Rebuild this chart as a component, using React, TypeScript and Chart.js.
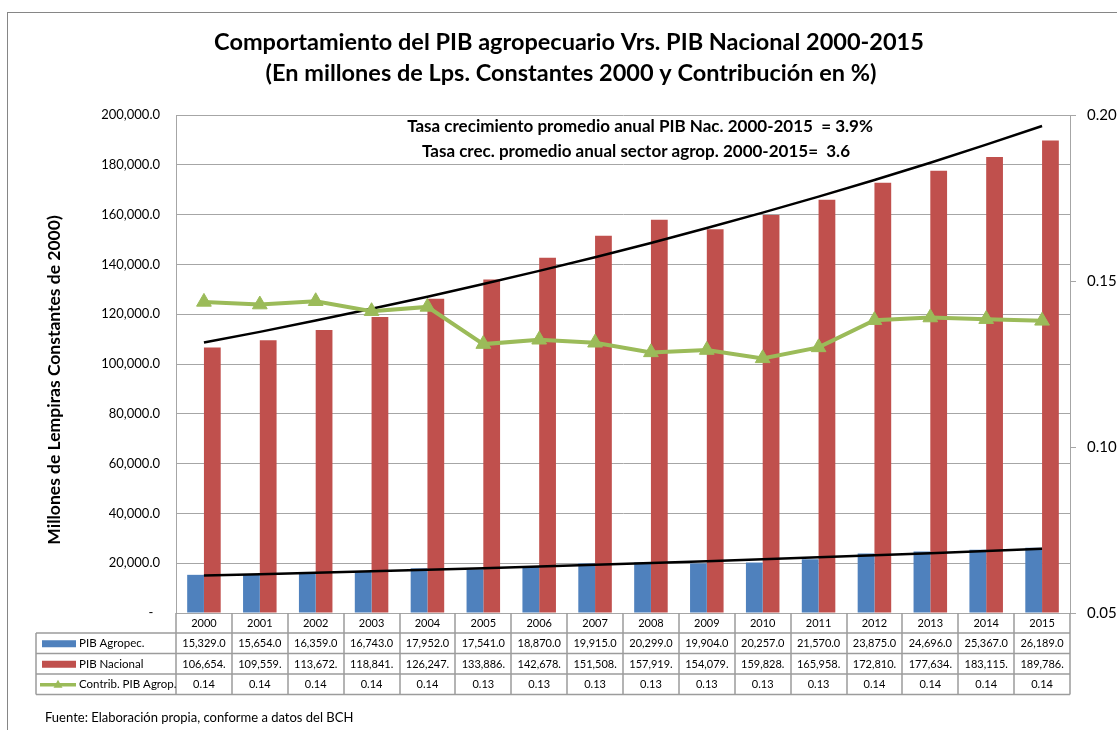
import React, { useEffect, useRef } from "react";
import { Chart, registerables } from "chart.js";

Chart.register(...registerables);

const years = ["2000", "2001", "2002", "2003", "2004", "2005", "2006", "2007", "2008", "2009", "2010", "2011", "2012", "2013", "2014", "2015"];
const pibAgro = [15329, 15654, 16359, 16743, 17952, 17541, 18870, 19915, 20299, 19904, 20257, 21570, 23875, 24696, 25367, 26189];
const pibNac = [106654, 109559, 113672, 118841, 126247, 133886, 142678, 151508, 157919, 154079, 159828, 165958, 172810, 177634, 183115, 189786];
const contrib = [0.1437, 0.1429, 0.1439, 0.1409, 0.1422, 0.131, 0.1323, 0.1314, 0.1285, 0.1292, 0.1267, 0.13, 0.1382, 0.139, 0.1385, 0.138];
const trendNac = [108600, 112900, 117500, 122200, 127000, 132100, 137400, 142900, 148600, 154600, 160800, 167200, 173900, 180800, 188100, 195600];
const trendAgro = [15040, 15590, 16160, 16760, 17370, 18010, 18670, 19360, 20070, 20800, 21570, 22360, 23180, 24030, 24910, 25830];

const titleLines = [
  "Comportamiento del PIB agropecuario Vrs. PIB Nacional 2000-2015",
  "(En millones de Lps. Constantes 2000 y Contribución en %)",
];
const noteLines = [
  "Tasa crecimiento promedio anual PIB Nac. 2000-2015  = 3.9%",
  "Tasa crec. promedio anual sector agrop. 2000-2015=  3.6",
];
const yTitle = "Millones de Lempiras Constantes de 2000)";
const footer = "Fuente: Elaboración propia, conforme a datos del BCH";
const seriesNames = ["PIB Agropec.", "PIB Nacional", "Contrib. PIB Agrop."];

const BLUE = "#4f81bd";
const RED = "#c0504d";
const GREEN = "#9bbb59";
const GRID = "#a6a6a6";
const FONT = "Lato, 'Open Sans', sans-serif";

const fmt1 = (v: number) => v.toLocaleString("en-US", { minimumFractionDigits: 1, maximumFractionDigits: 1 });

const decor = {
  id: "decor",
  beforeDraw(chart: any) {
    const ctx = chart.ctx;
    ctx.save();
    ctx.fillStyle = "#fff";
    ctx.fillRect(0, 0, chart.width, chart.height);
    ctx.strokeStyle = "#868686";
    ctx.lineWidth = 1;
    ctx.strokeRect(7.5, 12.5, 1300, 900);
    ctx.restore();
  },
  afterDraw(chart: any) {
    const ctx = chart.ctx;
    const xs = chart.scales.x;
    const area = chart.chartArea;
    ctx.save();
    ctx.fillStyle = "#000";
    ctx.textAlign = "center";
    ctx.textBaseline = "middle";
    // title
    ctx.font = `bold 23.5px ${FONT}`;
    ctx.fillText(titleLines[0], 569, 42);
    ctx.fillText(titleLines[1], 571, 73);
    // note
    ctx.font = `bold 17px ${FONT}`;
    ctx.fillText(noteLines[0], 640, 127);
    ctx.fillText(noteLines[1], 636, 152);
    // y title
    ctx.save();
    ctx.translate(54, 380);
    ctx.rotate(-Math.PI / 2);
    ctx.font = `bold 17.5px ${FONT}`;
    ctx.fillText(yTitle, 0, 0);
    ctx.restore();

    // data table
    const n = years.length;
    const cw = (area.right - area.left) / n;
    const y0 = area.bottom;
    const rows = [y0, 633, 653.5, 674, 694.5];
    const legL = 36;
    ctx.strokeStyle = "#9c9c9c";
    ctx.lineWidth = 1.5;
    ctx.beginPath();
    for (let r = 1; r < rows.length; r++) {
      ctx.moveTo(legL, rows[r]);
      ctx.lineTo(area.right, rows[r]);
    }
    ctx.moveTo(legL, rows[1]);
    ctx.lineTo(legL, rows[4]);
    for (let i = 0; i <= n; i++) {
      const xx = Math.round(area.left + i * cw);
      ctx.moveTo(xx, y0);
      ctx.lineTo(xx, rows[4]);
    }
    ctx.stroke();

    const rowMid = (r: number) => (rows[r] + rows[r + 1]) / 2 + 0.5;
    ctx.font = `11px ${FONT}`;
    ctx.textAlign = "center";
    for (let i = 0; i < n; i++) {
      const cx = xs.getPixelForValue(i);
      ctx.fillText(years[i], cx, rowMid(0));
      ctx.fillText(fmt1(pibAgro[i]), cx, rowMid(1));
      ctx.fillText(pibNac[i].toLocaleString("en-US") + ".", cx, rowMid(2));
      ctx.fillText(contrib[i].toFixed(2), cx, rowMid(3));
    }
    // legend keys
    ctx.fillStyle = BLUE;
    ctx.fillRect(42, rowMid(1) - 3.5, 34, 7);
    ctx.fillStyle = RED;
    ctx.fillRect(42, rowMid(2) - 3.5, 34, 7);
    ctx.strokeStyle = GREEN;
    ctx.lineWidth = 3.5;
    ctx.beginPath();
    ctx.moveTo(40, rowMid(3));
    ctx.lineTo(76, rowMid(3));
    ctx.stroke();
    ctx.fillStyle = GREEN;
    ctx.beginPath();
    ctx.moveTo(58, rowMid(3) - 5);
    ctx.lineTo(62.5, rowMid(3) + 3);
    ctx.lineTo(53.5, rowMid(3) + 3);
    ctx.closePath();
    ctx.fill();
    ctx.fillStyle = "#000";
    ctx.textAlign = "left";
    ctx.font = `11.5px ${FONT}`;
    for (let r = 0; r < 3; r++) ctx.fillText(seriesNames[r], 79, rowMid(r + 1));
    // footer
    ctx.font = `13px ${FONT}`;
    ctx.fillText(footer, 45, 718);
    ctx.restore();
  },
};

export default function App() {
  const ref = useRef<HTMLCanvasElement | null>(null);
  useEffect(() => {
    if (!ref.current) return;
    const chart = new Chart(ref.current, {
      type: "bar",
      data: {
        labels: years,
        datasets: [
          {
            type: "line",
            label: seriesNames[2],
            data: contrib,
            yAxisID: "y1",
            borderColor: GREEN,
            backgroundColor: GREEN,
            borderWidth: 4,
            pointStyle: "triangle",
            pointRadius: 8.5,
            pointBackgroundColor: GREEN,
            pointBorderColor: GREEN,
            pointBorderWidth: 1,
            tension: 0,
            order: 0,
          } as any,
          {
            type: "line",
            label: "Tendencia PIB Nacional",
            data: trendNac,
            yAxisID: "y",
            borderColor: "#000",
            borderWidth: 2.5,
            pointRadius: 0,
            tension: 0,
            order: 1,
          } as any,
          {
            type: "line",
            label: "Tendencia PIB Agropec.",
            data: trendAgro,
            yAxisID: "y",
            borderColor: "#000",
            borderWidth: 2.5,
            pointRadius: 0,
            tension: 0,
            order: 1,
          } as any,
          {
            label: seriesNames[0],
            data: pibAgro,
            yAxisID: "y",
            backgroundColor: BLUE,
            categoryPercentage: 0.6,
            barPercentage: 1,
            order: 2,
          },
          {
            label: seriesNames[1],
            data: pibNac,
            yAxisID: "y",
            backgroundColor: RED,
            categoryPercentage: 0.6,
            barPercentage: 1,
            order: 2,
          },
        ],
      },
      options: {
        responsive: false,
        animation: false,
        layout: { padding: { left: 0, right: 0, top: 115, bottom: 117 } },
        plugins: {
          legend: { display: false },
          title: { display: false },
          tooltip: { enabled: false },
        },
        scales: {
          x: {
            type: "category",
            display: false,
            offset: true,
            grid: { display: false },
          },
          y: {
            position: "left",
            min: 0,
            max: 200000,
            afterFit: (s: any) => {
              s.width = 176;
            },
            ticks: {
              stepSize: 20000,
              padding: 16,
              color: "#000",
              font: { family: FONT, size: 13 },
              callback: (v: any) => (Number(v) === 0 ? "-  " : fmt1(Number(v))),
            },
            grid: { color: GRID, lineWidth: 1, drawTicks: false },
            border: { color: GRID, width: 1 },
          },
          y1: {
            position: "right",
            min: 0.05,
            max: 0.2,
            afterFit: (s: any) => {
              s.width = 47;
            },
            ticks: {
              stepSize: 0.05,
              padding: 11,
              color: "#000",
              font: { family: FONT, size: 15 },
              callback: (v: any) => Number(v).toFixed(2),
            },
            grid: { drawOnChartArea: false, drawTicks: true, tickLength: 6, color: GRID },
            border: { color: GRID, width: 1 },
          },
        },
      },
      plugins: [decor],
    });
    return () => chart.destroy();
  }, []);
  return (
    <div style={{ position: "fixed", left: 0, top: 0, width: 1117, height: 730, background: "#fff" }}>
      <canvas ref={ref} width={1117} height={730} style={{ display: "block" }} />
    </div>
  );
}
